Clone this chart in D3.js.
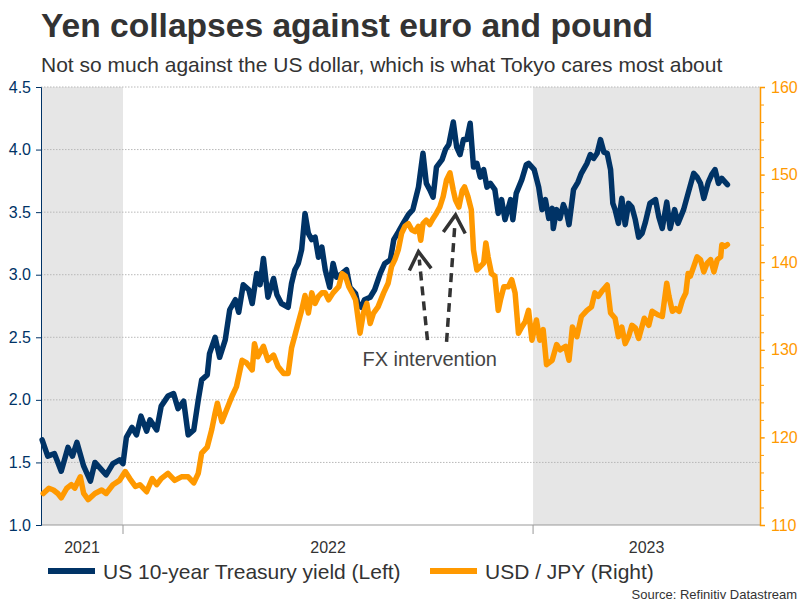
<!DOCTYPE html>
<html>
<head>
<meta charset="utf-8">
<script src="https://cdn.jsdelivr.net/npm/d3@7"></script>
<style>
  body { margin: 0; background: #fff; }
  svg { display: block; font-family: "Liberation Sans", Arial, sans-serif; }
</style>
</head>
<body>
<svg id="chart"></svg>
<script>
const width = 806;
const height = 605;

// US 10-year Treasury yield, %
const yieldDates = [
  "2021-10-21","2021-10-26","2021-11-01","2021-11-07","2021-11-13","2021-11-17","2021-11-21","2021-11-27",
  "2021-12-03","2021-12-07","2021-12-13","2021-12-17","2021-12-23","2021-12-29","2022-01-01","2022-01-04",
  "2022-01-09","2022-01-13","2022-01-17","2022-01-22","2022-01-25","2022-01-31","2022-02-04","2022-02-10",
  "2022-02-15","2022-02-19","2022-02-24","2022-02-28","2022-03-05","2022-03-09","2022-03-12","2022-03-17",
  "2022-03-19","2022-03-24","2022-03-28","2022-04-02","2022-04-06","2022-04-11","2022-04-14","2022-04-18",
  "2022-04-23","2022-04-26","2022-04-30","2022-05-03","2022-05-06","2022-05-10","2022-05-15","2022-05-18",
  "2022-05-22","2022-05-28","2022-05-31","2022-06-03","2022-06-06","2022-06-09","2022-06-12","2022-06-15",
  "2022-06-18","2022-06-21","2022-06-24","2022-06-27","2022-06-30","2022-07-04","2022-07-07","2022-07-10",
  "2022-07-15","2022-07-19","2022-07-22","2022-07-27","2022-07-29","2022-08-01","2022-08-04","2022-08-09",
  "2022-08-13","2022-08-18","2022-08-22","2022-08-27","2022-08-30","2022-09-03","2022-09-08","2022-09-12",
  "2022-09-16","2022-09-21","2022-09-25","2022-09-28","2022-10-01","2022-10-04","2022-10-07","2022-10-12",
  "2022-10-15","2022-10-18","2022-10-22","2022-10-25","2022-10-28","2022-10-31","2022-11-03","2022-11-06",
  "2022-11-09","2022-11-12","2022-11-15","2022-11-18","2022-11-21","2022-11-24","2022-11-28","2022-12-01",
  "2022-12-04","2022-12-07","2022-12-12","2022-12-14","2022-12-17","2022-12-22","2022-12-26","2022-12-28",
  "2023-01-02","2023-01-06","2023-01-09","2023-01-12","2023-01-15","2023-01-18","2023-01-19","2023-01-22",
  "2023-01-25","2023-01-28","2023-01-31","2023-02-02","2023-02-06","2023-02-10","2023-02-13","2023-02-18",
  "2023-02-21","2023-02-24","2023-02-27","2023-03-02","2023-03-05","2023-03-08","2023-03-11","2023-03-13",
  "2023-03-15","2023-03-18","2023-03-21","2023-03-24","2023-03-27","2023-03-30","2023-04-02","2023-04-05",
  "2023-04-08","2023-04-11","2023-04-15","2023-04-20","2023-04-23","2023-04-26","2023-04-30","2023-05-03",
  "2023-05-07","2023-05-10","2023-05-15","2023-05-19","2023-05-24","2023-05-27","2023-05-30","2023-06-02",
  "2023-06-06","2023-06-09","2023-06-12","2023-06-15","2023-06-18","2023-06-23"
];
const yieldValues = [
  1.68,1.55,1.57,1.43,1.62,1.55,1.66,1.47,
  1.35,1.50,1.44,1.40,1.49,1.52,1.49,1.70,
  1.78,1.72,1.87,1.75,1.84,1.76,1.95,2.03,
  2.05,1.93,1.99,1.72,1.76,2.00,2.16,2.20,
  2.37,2.50,2.34,2.48,2.72,2.80,2.70,2.92,
  2.88,2.77,3.01,2.92,3.13,2.82,2.97,2.84,
  2.77,2.74,2.93,3.04,3.09,3.20,3.49,3.33,
  3.28,3.30,3.14,3.22,3.04,2.90,3.09,2.98,
  3.01,3.04,2.90,2.85,2.77,2.74,2.80,2.82,
  2.88,3.01,3.09,3.12,3.28,3.34,3.42,3.48,
  3.52,3.70,3.97,3.73,3.68,3.62,3.86,3.92,
  4.00,4.04,4.22,4.02,3.96,4.08,4.08,4.21,
  3.86,3.89,3.78,3.84,3.70,3.73,3.68,3.49,
  3.60,3.44,3.60,3.44,3.65,3.76,3.88,3.89,
  3.84,3.70,3.52,3.60,3.45,3.53,3.37,3.52,
  3.45,3.56,3.49,3.40,3.68,3.74,3.81,3.89,
  3.96,3.93,3.97,4.08,3.98,3.97,3.84,3.57,
  3.52,3.41,3.61,3.40,3.57,3.54,3.44,3.30,
  3.33,3.42,3.57,3.60,3.46,3.37,3.58,3.37,
  3.52,3.41,3.52,3.65,3.81,3.78,3.73,3.61,
  3.74,3.80,3.84,3.73,3.77,3.72
];

// USD / JPY
const jpyDates = [
  "2021-10-22","2021-10-27","2021-10-31","2021-11-04","2021-11-07","2021-11-12","2021-11-16","2021-11-19",
  "2021-11-24","2021-11-27","2021-12-01","2021-12-07","2021-12-13","2021-12-17","2021-12-23","2021-12-29",
  "2022-01-03","2022-01-07","2022-01-12","2022-01-16","2022-01-22","2022-01-27","2022-01-31","2022-02-04",
  "2022-02-10","2022-02-16","2022-02-22","2022-02-28","2022-03-05","2022-03-09","2022-03-12","2022-03-17",
  "2022-03-21","2022-03-24","2022-03-26","2022-03-30","2022-04-03","2022-04-08","2022-04-12","2022-04-17",
  "2022-04-21","2022-04-26","2022-04-28","2022-05-01","2022-05-06","2022-05-10","2022-05-15","2022-05-19",
  "2022-05-24","2022-05-28","2022-05-31","2022-06-05","2022-06-09","2022-06-12","2022-06-15","2022-06-18",
  "2022-06-21","2022-06-24","2022-06-27","2022-06-30","2022-07-03","2022-07-07","2022-07-12","2022-07-15",
  "2022-07-18","2022-07-21","2022-07-24","2022-07-27","2022-07-31","2022-08-03","2022-08-06","2022-08-09",
  "2022-08-12","2022-08-16","2022-08-21","2022-08-25","2022-08-28","2022-08-31","2022-09-03","2022-09-06",
  "2022-09-09","2022-09-12","2022-09-15","2022-09-18","2022-09-21","2022-09-23","2022-09-25","2022-09-28",
  "2022-10-01","2022-10-04","2022-10-07","2022-10-10","2022-10-13","2022-10-16","2022-10-19","2022-10-22",
  "2022-10-24","2022-10-27","2022-10-30","2022-11-01","2022-11-04","2022-11-07","2022-11-09","2022-11-12",
  "2022-11-15","2022-11-18","2022-11-20","2022-11-22","2022-11-25","2022-11-28","2022-12-01","2022-12-03",
  "2022-12-06","2022-12-10","2022-12-13","2022-12-16","2022-12-19","2022-12-22","2022-12-25","2022-12-28",
  "2022-12-31","2023-01-04","2023-01-07","2023-01-10","2023-01-13","2023-01-18","2023-01-22","2023-01-25",
  "2023-01-30","2023-02-02","2023-02-05","2023-02-09","2023-02-13","2023-02-18","2023-02-22","2023-02-25",
  "2023-02-28","2023-03-04","2023-03-08","2023-03-11","2023-03-15","2023-03-18","2023-03-21","2023-03-24",
  "2023-03-27","2023-03-30","2023-04-02","2023-04-05","2023-04-10","2023-04-14","2023-04-17","2023-04-22",
  "2023-04-26","2023-04-30","2023-05-02","2023-05-05","2023-05-08","2023-05-11","2023-05-14","2023-05-17",
  "2023-05-19","2023-05-21","2023-05-24","2023-05-27","2023-05-30","2023-06-02","2023-06-05","2023-06-08",
  "2023-06-11","2023-06-14","2023-06-17","2023-06-18","2023-06-21","2023-06-23"
];
const jpyValues = [
  113.6,114.2,114.0,113.6,113.1,114.2,114.6,114.2,
  115.5,113.6,112.9,113.6,114.0,113.6,114.6,115.1,
  116.1,115.3,114.4,114.6,113.8,115.3,114.6,115.3,
  115.9,115.1,115.5,115.5,114.8,115.9,118.2,118.9,
  120.9,122.8,123.9,121.8,123.1,124.7,125.8,128.8,
  128.5,127.7,130.7,129.2,130.4,128.8,129.4,128.1,
  127.3,127.3,130.2,132.6,134.5,136.2,134.2,136.5,
  135.3,136.1,136.5,136.5,135.7,136.5,137.2,138.7,
  138.4,137.2,136.5,135.7,131.9,134.2,135.3,133.0,
  134.2,134.9,136.5,137.6,139.5,140.3,141.4,143.3,
  144.1,144.4,143.7,143.5,144.1,142.5,144.4,144.8,
  144.3,145.0,145.6,146.3,147.5,149.4,150.2,148.2,
  147.1,146.3,148.2,148.6,147.5,146.0,141.4,139.1,
  139.5,139.9,142.2,140.6,138.7,138.4,134.5,135.7,
  137.2,137.2,138.0,136.5,131.9,132.6,133.2,134.5,
  131.1,133.4,131.1,132.3,128.3,128.8,130.6,130.0,
  130.4,128.8,132.6,131.5,133.8,134.5,134.9,136.5,
  136.1,136.8,137.4,134.2,133.6,131.5,132.6,130.7,
  131.5,132.8,132.5,131.3,133.6,132.8,134.4,134.0,
  133.8,137.6,136.1,134.4,134.7,134.4,135.7,136.5,
  138.7,138.4,139.5,140.6,140.3,138.9,139.9,140.3,
  138.9,140.3,140.6,142.0,141.8,142.0
];

const leftTicks = [1.0, 1.5, 2.0, 2.5, 3.0, 3.5, 4.0, 4.5];
const rightTicks = [110, 120, 130, 140, 150, 160];
const years = ["2021", "2022", "2023"];
const yearStarts = ["2022-01-01", "2023-01-01"];
const shadedSpans = [["2021-10-20", "2022-01-01"], ["2023-01-01", "2023-07-22"]];

// FX intervention arrows, in (date, USD/JPY) terms
const arrows = [
  { from: ["2022-09-29", 131.1], to: ["2022-09-21", 141.2] },
  { from: ["2022-10-16", 130.9], to: ["2022-10-24", 145.4] }
];
const note = { date: "2022-10-01", value: 128.2, text: "FX intervention" };

const navy = "#003366";
const orange = "#ff9900";
const parse = d3.timeParse("%Y-%m-%d");

const margin = { top: 87, right: 46, bottom: 80, left: 41 };
const innerW = width - margin.left - margin.right;
const innerH = height - margin.top - margin.bottom;

const svg = d3.select("#chart")
    .attr("width", width)
    .attr("height", height);

const x = d3.scaleTime()
    .domain([parse("2021-10-20"), parse("2023-07-22")])
    .range([margin.left, margin.left + innerW]);

const yLeft = d3.scaleLinear()
    .domain([1, 4.5])
    .range([margin.top + innerH, margin.top]);

const yRight = d3.scaleLinear()
    .domain([110, 160])
    .range([margin.top + innerH, margin.top]);

// titles
svg.append("text")
    .attr("x", 41).attr("y", 37)
    .attr("font-size", 33.6).attr("font-weight", "bold")
    .attr("fill", "#333")
    .text("Yen collapses against euro and pound");

svg.append("text")
    .attr("x", 41).attr("y", 72)
    .attr("font-size", 21)
    .attr("fill", "#333")
    .text("Not so much against the US dollar, which is what Tokyo cares most about");

// shaded years
svg.append("g").selectAll("rect")
    .data(shadedSpans)
    .enter().append("rect")
    .attr("x", d => x(parse(d[0])))
    .attr("width", d => x(parse(d[1])) - x(parse(d[0])))
    .attr("y", margin.top)
    .attr("height", innerH)
    .attr("fill", "#e6e6e6");

// gridlines
svg.append("g").selectAll("line")
    .data(leftTicks.slice(1))
    .enter().append("line")
    .attr("x1", margin.left).attr("x2", margin.left + innerW)
    .attr("y1", d => yLeft(d)).attr("y2", d => yLeft(d))
    .attr("stroke", "#b8b8b8")
    .attr("stroke-width", 1)
    .attr("stroke-dasharray", "1.5,1.5");

// x axis
svg.append("line")
    .attr("x1", margin.left).attr("x2", margin.left + innerW)
    .attr("y1", margin.top + innerH).attr("y2", margin.top + innerH)
    .attr("stroke", "#999");

svg.append("g").selectAll("line")
    .data(yearStarts)
    .enter().append("line")
    .attr("x1", d => x(parse(d))).attr("x2", d => x(parse(d)))
    .attr("y1", margin.top + innerH).attr("y2", margin.top + innerH + 9)
    .attr("stroke", "#999");

const yearEdges = [x.domain()[0], ...yearStarts.map(parse), x.domain()[1]];
svg.append("g").selectAll("text")
    .data(years)
    .enter().append("text")
    .attr("x", (d, i) => (x(yearEdges[i]) + x(yearEdges[i + 1])) / 2)
    .attr("y", 553)
    .attr("text-anchor", "middle")
    .attr("font-size", 16)
    .attr("fill", "#333")
    .text(d => d);

// left axis
const leftAxis = svg.append("g")
    .attr("transform", `translate(${margin.left},0)`)
    .call(d3.axisLeft(yLeft).tickValues(leftTicks).tickFormat(d3.format(".1f")).tickSize(5).tickPadding(5));
leftAxis.select(".domain").attr("stroke", navy);
leftAxis.selectAll(".tick line").attr("stroke", navy);
leftAxis.selectAll(".tick text")
    .attr("fill", navy)
    .attr("font-size", 16)
    .attr("font-family", "Liberation Sans, Arial, sans-serif");

// right axis
const rightAxis = svg.append("g")
    .attr("transform", `translate(${margin.left + innerW},0)`)
    .call(d3.axisRight(yRight).tickValues(rightTicks).tickSize(5).tickPadding(6));
rightAxis.select(".domain").attr("stroke", orange).attr("stroke-width", 1.5);
rightAxis.selectAll(".tick line").attr("stroke", orange);
rightAxis.selectAll(".tick text")
    .attr("fill", orange)
    .attr("font-size", 16)
    .attr("font-family", "Liberation Sans, Arial, sans-serif");

svg.append("g")
    .attr("transform", `translate(${margin.left + innerW},0)`)
    .call(d3.axisRight(yRight).ticks(25).tickSize(4).tickFormat(""))
    .call(g => g.select(".domain").remove())
    .selectAll(".tick line").attr("stroke", orange);

// lines
const yieldData = yieldDates.map((d, i) => ({ date: parse(d), value: yieldValues[i] }));
const jpyData = jpyDates.map((d, i) => ({ date: parse(d), value: jpyValues[i] }));

svg.append("path")
    .datum(yieldData)
    .attr("fill", "none")
    .attr("stroke", navy)
    .attr("stroke-width", 5.5)
    .attr("stroke-linejoin", "round")
    .attr("stroke-linecap", "round")
    .attr("d", d3.line().x(d => x(d.date)).y(d => yLeft(d.value)));

svg.append("path")
    .datum(jpyData)
    .attr("fill", "none")
    .attr("stroke", orange)
    .attr("stroke-width", 5.5)
    .attr("stroke-linejoin", "round")
    .attr("stroke-linecap", "round")
    .attr("d", d3.line().x(d => x(d.date)).y(d => yRight(d.value)));

// annotation
const arrowG = svg.append("g")
    .attr("stroke", "#333")
    .attr("stroke-width", 3.5)
    .attr("fill", "none");

arrows.forEach(a => {
    const x0 = x(parse(a.from[0])), y0 = yRight(a.from[1]);
    const x1 = x(parse(a.to[0])), y1 = yRight(a.to[1]);
    const ang = Math.atan2(y1 - y0, x1 - x0);
    arrowG.append("line")
        .attr("x1", x0).attr("y1", y0)
        .attr("x2", x1 - 8 * Math.cos(ang)).attr("y2", y1 - 8 * Math.sin(ang))
        .attr("stroke-dasharray", "9,6");
    const head = [ang + Math.PI - 0.55, ang + Math.PI + 0.55].map(t => [x1 + 21 * Math.cos(t), y1 + 21 * Math.sin(t)]);
    arrowG.append("path")
        .attr("stroke-linejoin", "miter")
        .attr("d", d3.line()([head[0], [x1, y1], head[1]]));
});

svg.append("text")
    .attr("x", x(parse(note.date)))
    .attr("y", yRight(note.value))
    .attr("text-anchor", "middle")
    .attr("font-size", 20)
    .attr("fill", "#444")
    .text(note.text);

// legend
const legendItems = [
  { label: "US 10-year Treasury yield (Left)", color: navy, x: 48 },
  { label: "USD / JPY (Right)", color: orange, x: 430 }
];
const legend = svg.append("g").selectAll("g")
    .data(legendItems)
    .enter().append("g")
    .attr("transform", d => `translate(${d.x},571)`);
legend.append("line")
    .attr("x1", 0).attr("x2", 47)
    .attr("stroke", d => d.color)
    .attr("stroke-width", 6);
legend.append("text")
    .attr("x", 55).attr("y", 7.5)
    .attr("font-size", 21)
    .attr("fill", "#333")
    .text(d => d.label);

svg.append("text")
    .attr("x", 797).attr("y", 599)
    .attr("text-anchor", "end")
    .attr("font-size", 13)
    .attr("fill", "#333")
    .text("Source: Refinitiv Datastream");
</script>
</body>
</html>
